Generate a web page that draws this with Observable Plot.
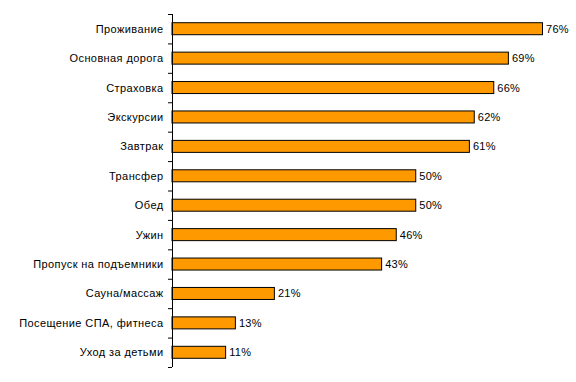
<!DOCTYPE html>
<html>
<head>
<meta charset="utf-8">
<script src="https://cdn.jsdelivr.net/npm/d3@7"></script>
<script src="https://cdn.jsdelivr.net/npm/@observablehq/plot@0.6"></script>
<style>
  html, body { margin: 0; padding: 0; background: #fff; }
  svg { display: block; }
  g[aria-label="y-axis tick label"] text { letter-spacing: 0.4px; }
  g[aria-label="text"] text { letter-spacing: 0.3px; }
</style>
</head>
<body>
<div id="chart"></div>
<script>
const categories = [
  "Проживание",
  "Основная дорога",
  "Страховка",
  "Экскурсии",
  "Завтрак",
  "Трансфер",
  "Обед",
  "Ужин",
  "Пропуск на подъемники",
  "Сауна/массаж",
  "Посещение СПА, фитнеса",
  "Уход за детьми"
];
const values = [76, 69, 66, 62, 61, 50, 50, 46, 43, 21, 13, 11];

const data = categories.map((c, i) => ({category: c, value: values[i], i}));
const n = categories.length;
const half = 0.204;

const chart = Plot.plot({
  width: 576,
  height: 382,
  marginLeft: 172,
  marginRight: 14,
  marginTop: 14,
  marginBottom: 15,
  style: {fontFamily: "'Liberation Sans', Arial, sans-serif", fontSize: "11px", color: "#000", background: "#fff"},
  x: {domain: [0, 80], axis: null},
  y: {domain: [0, n], reverse: true, axis: null},
  marks: [
    Plot.rect(data, {
      x1: 0,
      x2: "value",
      y1: d => d.i + 0.5 - half,
      y2: d => d.i + 0.5 + half,
      fill: "#FF9900",
      stroke: "#000",
      strokeWidth: 1
    }),
    Plot.ruleX([0], {y1: 0, y2: n, stroke: "#000", strokeWidth: 1}),
    Plot.axisY({
      ticks: d3.range(0, n + 1),
      tickSize: 4,
      tickFormat: () => "",
      stroke: "#000",
      strokeWidth: 1
    }),
    Plot.axisY({
      ticks: d3.range(0, n).map(i => i + 0.5),
      tickSize: 0,
      tickPadding: 9,
      tickFormat: v => categories[Math.floor(v)],
      fontSize: 11,
      fill: "#000"
    }),
    Plot.text(data, {
      x: "value",
      y: d => d.i + 0.5,
      text: d => d.value + "%",
      textAnchor: "start",
      dx: 3,
      fontSize: 11,
      fill: "#000"
    })
  ]
});
document.getElementById("chart").appendChild(chart);
</script>
</body>
</html>
